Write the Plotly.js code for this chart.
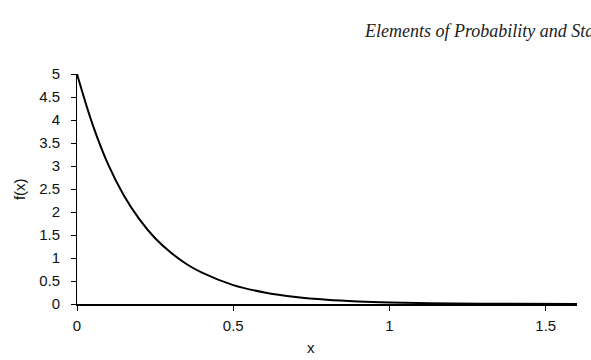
<!DOCTYPE html>
<html>
<head>
<meta charset="utf-8">
<script src="https://cdn.plot.ly/plotly-3.0.1.min.js"></script>
<style>html,body{margin:0;padding:0;background:#fff;}#chart{width:591px;height:360px;}</style>
</head>
<body>
<div id="chart"></div>
<script>
// Values
const xValues = [0, 0.05, 0.1, 0.15, 0.2, 0.25, 0.3, 0.35, 0.4, 0.5, 0.6, 0.7, 0.8, 0.9, 1.0, 1.2, 1.4, 1.6];
const fValues = [5, 3.9, 3.03, 2.36, 1.84, 1.43, 1.12, 0.87, 0.68, 0.41, 0.25, 0.15, 0.09, 0.055, 0.034, 0.012, 0.005, 0.002];
const xTicks = [0, 0.5, 1, 1.5];
const xTickLabels = ['0', '0.5', '1', '1.5'];
const yTicks = [0, 0.5, 1, 1.5, 2, 2.5, 3, 3.5, 4, 4.5, 5];
const yTickLabels = ['0', '0.5', '1', '1.5', '2', '2.5', '3', '3.5', '4', '4.5', '5'];
const xTitle = 'x';
const yTitle = 'f(x)';
const headerText = 'Elements of Probability and Statistics';

const trace = {
  x: xValues, y: fValues, type: 'scatter', mode: 'lines',
  line: {color: '#000', width: 2, shape: 'spline', smoothing: 1},
  hoverinfo: 'skip'
};
const font = {family: 'Liberation Sans, Arial, sans-serif', size: 15, color: '#111'};
const L = 77, R = 577.5, T = 73.5, B = 304;
const W = R - L, H = B - T;
const layout = {
  width: 591, height: 360,
  margin: {l: L, r: 591 - R, t: T, b: 360 - B, pad: 0},
  paper_bgcolor: '#fff', plot_bgcolor: '#fff',
  showlegend: false,
  font: font,
  xaxis: {
    range: [0, 1.6], tickmode: 'array', tickvals: xTicks, ticktext: xTickLabels,
    showgrid: false, zeroline: false, showline: true, linecolor: '#000', linewidth: 1.5,
    ticks: 'outside', ticklen: 5, tickcolor: '#000', tickwidth: 1,
    tickfont: font, ticklabelstandoff: 2
  },
  yaxis: {
    range: [0, 5], tickmode: 'array', tickvals: yTicks, ticktext: yTickLabels,
    showgrid: false, zeroline: false, showline: true, linecolor: '#000', linewidth: 1,
    ticks: 'outside', ticklen: 5, tickcolor: '#000', tickwidth: 1,
    tickfont: font, ticklabelstandoff: 8
  },
  annotations: [
    {
      text: xTitle, xref: 'paper', yref: 'paper', x: (311.5 - L) / W, y: -(348 - B) / H,
      xanchor: 'center', yanchor: 'middle', showarrow: false, font: font
    },
    {
      text: yTitle, xref: 'paper', yref: 'paper', x: -(L - 19) / W, y: 0.5,
      xanchor: 'center', yanchor: 'middle', showarrow: false, font: font, textangle: -90
    },
    {
      text: headerText, xref: 'paper', yref: 'paper', x: (362 - L) / W, y: 1 + (T - 42) / H,
      xanchor: 'left', yanchor: 'bottom', showarrow: false,
      font: {family: 'Liberation Serif, serif', size: 18, color: '#222', style: 'italic'}
    }
  ]
};
Plotly.newPlot('chart', [trace], layout, {staticPlot: true, displayModeBar: false});
</script>
</body>
</html>
